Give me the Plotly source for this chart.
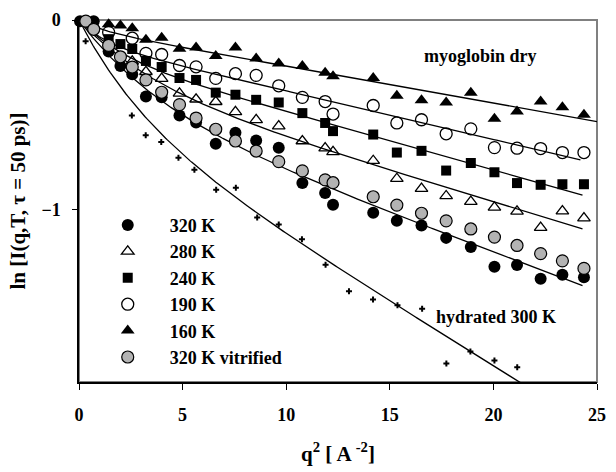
import numpy as np
import plotly.graph_objects as go

# ---- data ----
q2_320 = [0.05, 0.71, 1.43, 2.00, 2.57, 3.23, 3.99, 4.85, 5.65, 6.60, 7.55, 8.55, 9.64, 10.78,
          11.88, 12.26, 14.20, 15.34, 16.53, 17.72, 18.91, 20.05, 21.14, 22.28, 23.33, 24.37]
y_320 = [-0.006, -0.006, -0.166, -0.242, -0.286, -0.404, -0.408, -0.504, -0.541, -0.652, -0.595,
         -0.636, -0.674, -0.860, -0.912, -0.974, -1.016, -1.059, -1.084, -1.149, -1.197, -1.301,
         -1.292, -1.365, -1.344, -1.357]

q2_280 = [2.57, 3.23, 3.99, 4.85, 5.65, 6.60, 7.55, 8.55, 9.64, 10.78, 11.88, 12.26, 14.20,
          15.34, 16.53, 17.72, 18.91, 20.05, 21.14, 22.28, 23.33, 24.37]
y_280 = [-0.218, -0.273, -0.309, -0.387, -0.418, -0.431, -0.484, -0.527, -0.560, -0.638, -0.676,
         -0.695, -0.742, -0.837, -0.889, -0.928, -0.958, -0.988, -1.009, -1.095, -1.008, -1.045]

q2_240 = [1.43, 2.00, 2.57, 3.23, 3.99, 4.85, 5.65, 6.60, 7.55, 8.55, 9.64, 10.78, 11.88, 12.26,
          14.20, 15.34, 16.53, 17.72, 18.91, 20.05, 21.14, 22.28, 23.33, 24.37]
y_240 = [-0.101, -0.127, -0.153, -0.216, -0.248, -0.306, -0.316, -0.383, -0.394, -0.421, -0.435,
         -0.491, -0.543, -0.586, -0.604, -0.699, -0.690, -0.794, -0.754, -0.803, -0.860, -0.869,
         -0.866, -0.866]

q2_190 = [1.43, 2.57, 3.23, 3.99, 4.85, 5.65, 6.60, 7.55, 8.55, 9.64, 10.78, 11.88, 12.26, 14.20,
          15.34, 16.53, 17.72, 18.91, 20.05, 21.14, 22.28, 23.33, 24.37]
y_190 = [-0.065, -0.096, -0.176, -0.182, -0.240, -0.247, -0.308, -0.283, -0.292, -0.347, -0.408,
         -0.430, -0.496, -0.451, -0.543, -0.526, -0.600, -0.574, -0.673, -0.676, -0.678, -0.699,
         -0.699]

q2_160 = [1.43, 2.00, 2.57, 3.23, 3.99, 4.85, 5.65, 6.60, 7.55, 8.55, 9.64, 10.78, 11.88, 12.26,
          14.20, 15.34, 16.53, 17.72, 18.91, 20.05, 21.14, 22.28, 23.33, 24.37]
y_160 = [-0.023, -0.029, -0.044, -0.104, -0.094, -0.151, -0.145, -0.190, -0.145, -0.203, -0.229,
         -0.242, -0.278, -0.297, -0.306, -0.399, -0.423, -0.435, -0.383, -0.521, -0.482, -0.430,
         -0.460, -0.500]

q2_vit = [0.33, 0.71, 1.43, 2.00, 2.57, 3.23, 3.99, 4.85, 5.65, 6.60, 7.55, 8.55, 9.64, 10.78,
          11.88, 12.26, 14.20, 15.34, 16.53, 17.72, 18.91, 20.05, 21.14, 22.28, 23.33, 24.37]
y_vit = [-0.006, -0.049, -0.134, -0.194, -0.248, -0.316, -0.381, -0.446, -0.517, -0.576, -0.638,
         -0.691, -0.747, -0.796, -0.843, -0.858, -0.932, -0.976, -1.019, -1.059, -1.102, -1.145,
         -1.189, -1.232, -1.270, -1.310]

q2_hyd = [0.32, 2.55, 3.22, 3.97, 4.80, 5.57, 6.62, 7.57, 8.60, 9.64, 10.76, 11.90, 13.03, 14.19,
          15.37, 16.56, 17.73, 18.89, 20.05, 21.15]
y_hyd = [-0.112, -0.503, -0.608, -0.643, -0.727, -0.790, -0.895, -0.884, -1.042, -1.079, -1.156,
         -1.291, -1.431, -1.474, -1.504, -1.523, -1.811, -1.748, -1.795, -1.831]

# fit curves: y = -A (1 - exp(-q2/B)) - C q2   (order: 320, 280, 240, 190, 160, hydrated)
fit_names = ["320 K", "280 K", "240 K", "190 K", "160 K", "hydrated 300 K"]
fit_A = [0.405, 0.30, 0.177, 0.118, 0.048, 0.465]
fit_B = [3.8, 3.5, 2.1, 1.3, 1.3, 3.2]
fit_C = [0.041, 0.033, 0.0307, 0.0256, 0.0195, 0.068]
fit_end = [24.3, 24.3, 24.3, 24.2, 25.0, 25.0]

FONT = "Liberation Serif"
fig = go.Figure()

for A, B, C, end in zip(fit_A, fit_B, fit_C, fit_end):
    u = np.linspace(0, end, 300)
    fig.add_trace(go.Scatter(x=u, y=-A * (1 - np.exp(-u / B)) - C * u, mode="lines",
                             line=dict(color="black", width=1.3), showlegend=False,
                             hoverinfo="skip"))

series = [
    ("320 K", q2_320, y_320, dict(symbol="circle", size=12, color="black")),
    ("280 K", q2_280, y_280, dict(symbol="triangle-up-open", size=11, color="black",
                                  line=dict(width=1.3, color="black"))),
    ("240 K", q2_240, y_240, dict(symbol="square", size=10, color="black")),
    ("190 K", q2_190, y_190, dict(symbol="circle-open", size=12, color="black",
                                  line=dict(width=1.3, color="black"))),
    ("160 K", q2_160, y_160, dict(symbol="triangle-up", size=12, color="black")),
    ("320 K vitrified", q2_vit, y_vit, dict(symbol="circle", size=12, color="#b3b3b3",
                                            line=dict(width=1.2, color="black"))),
]
for name, xs, ys, mk in series:
    fig.add_trace(go.Scatter(x=xs, y=ys, mode="markers", name=name, marker=mk,
                             cliponaxis=False))

fig.add_trace(go.Scatter(x=q2_hyd, y=y_hyd, mode="markers", showlegend=False,
                         marker=dict(symbol="cross", size=5, color="black"), cliponaxis=False))

fig.add_annotation(x=19.38, y=-0.19, text="myoglobin dry", showarrow=False,
                   font=dict(family=FONT, size=18, color="black", weight="bold"))
fig.add_annotation(x=20.14, y=-1.565, text="hydrated 300 K", showarrow=False,
                   font=dict(family=FONT, size=18, color="black", weight="bold"))

# grey frame (top/right)
fig.add_shape(type="rect", xref="paper", yref="paper", x0=0, y0=0, x1=1, y1=1,
              line=dict(color="#808080", width=2), layer="below")

fig.update_layout(
    width=616, height=472,
    margin=dict(l=79, r=10, t=20, b=84),
    paper_bgcolor="white", plot_bgcolor="white",
    font=dict(family=FONT, size=18, color="black", weight="bold"),
    legend=dict(x=0.013, y=0.484, xanchor="left", yanchor="top", itemwidth=74,
                bgcolor="rgba(0,0,0,0)", font=dict(family=FONT, size=18, weight="bold"),
                tracegroupgap=0),
    xaxis=dict(range=[0, 25], tickvals=[0, 5, 10, 15, 20, 25], showgrid=False, zeroline=False,
               showline=True, linecolor="black", linewidth=1.5, ticks="outside", ticklen=6,
               tickwidth=1.3, tickcolor="black", ticklabelstandoff=10,
               tickfont=dict(family=FONT, size=18, weight="bold"),
               title=dict(text="q<sup>2</sup> [ A <sup>-2</sup>]", standoff=22,
                          font=dict(family=FONT, size=21, weight="bold"))),
    yaxis=dict(range=[-1.909, 0], tickvals=[0, -1], showgrid=False, zeroline=False,
               showline=True, linecolor="black", linewidth=1.5, ticks="outside", ticklen=5,
               tickwidth=1.3, tickcolor="black", ticklabelstandoff=8,
               tickfont=dict(family=FONT, size=18, weight="bold"),
               title=dict(text="ln [I(q,T, τ = 50 ps)]", standoff=10,
                          font=dict(family=FONT, size=21, weight="bold"))),
)

fig.write_html("out.html")
